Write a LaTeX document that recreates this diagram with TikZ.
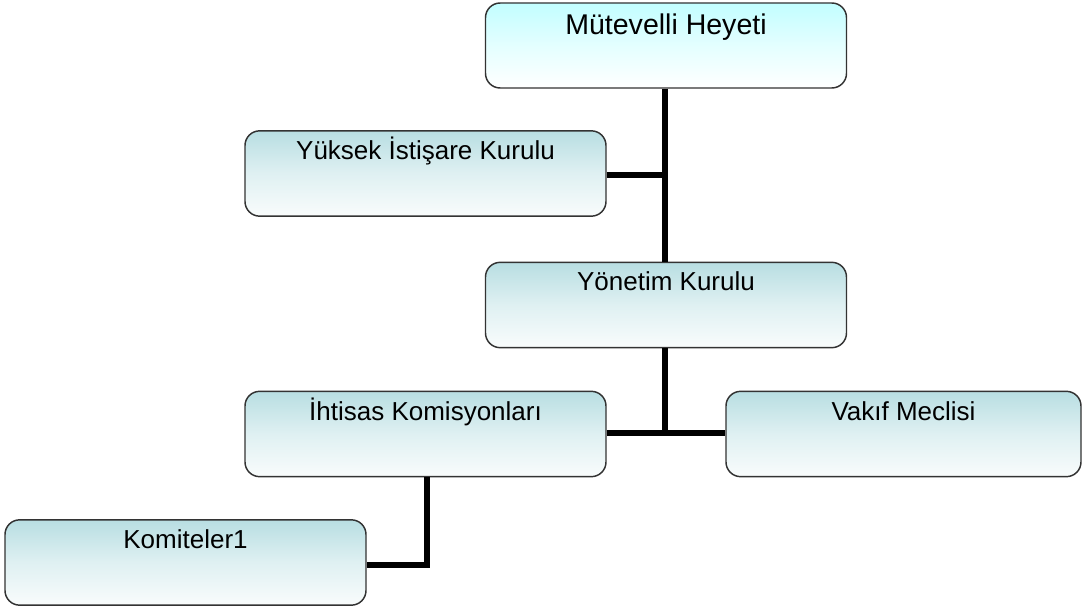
\documentclass[tikz,border=0pt]{standalone}
\usepackage{fontspec}
\setmainfont{Liberation Sans}
\definecolor{topcyan}{HTML}{C2FEFF}
\definecolor{boxblue}{HTML}{B8DEE2}
\definecolor{boxlow}{HTML}{F9FCFC}
\definecolor{edgegray}{HTML}{333333}
\tikzset{
  orgbox/.style={draw=edgegray, line width=1.1pt, rounded corners=11pt,
    minimum width=270.75pt, inner xsep=0pt, inner ysep=0pt,
    font=\fontsize{19.5pt}{22pt}\selectfont,
    text height=21.5pt, text depth=42.5pt,
    top color=boxblue, bottom color=boxlow, middle color=boxblue!45!white},
  topbox/.style={orgbox, top color=topcyan, bottom color=white, middle color=topcyan!45!white,
    font=\fontsize{21.4pt}{24pt}\selectfont, text height=23.5pt, text depth=40.25pt},
  link/.style={line width=3.8pt, black}
}
\begin{document}
\begin{tikzpicture}[x=0.75pt, y=-0.75pt]
\useasboundingbox (0,0) rectangle (1083,613);
\fill[white] (0,0) rectangle (1083,613);
\node[topbox] (mh) at (666,45.5) {Mütevelli Heyeti};
\node[orgbox] (yik) at (425.5,173.5) {Yüksek İstişare Kurulu};
\node[orgbox] (yk) at (666,305) {Yönetim Kurulu};
\node[orgbox] (ik) at (425.5,434) {İhtisas Komisyonları};
\node[orgbox, minimum width=266.25pt] (vm) at (903.5,434) {Vakıf Meclisi};
\node[orgbox] (km) at (185.5,562.5) {Komiteler1};
\coordinate (j1) at (665,175);
\coordinate (j2) at (665,433);
\coordinate (j3) at (427,565);
\draw[link] (mh.south -| j1) -- (yk.north -| j1);
\draw[link] (yik.east |- j1) -- (j1);
\draw[link] (yk.south -| j2) -- (j2);
\draw[link] (ik.east |- j2) -- (vm.west |- j2);
\draw[link] (ik.south -| j3) -- (j3) -- (km.east |- j3);
\end{tikzpicture}
\end{document}
